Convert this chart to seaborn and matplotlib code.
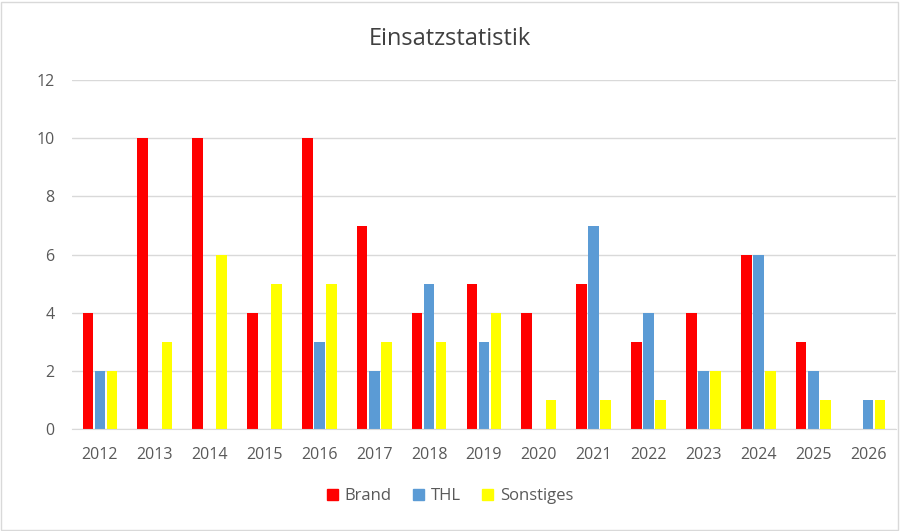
import pandas as pd
import seaborn as sns
import matplotlib.pyplot as plt

# Values
years = [str(y) for y in range(2012, 2027)]
brand = [4, 10, 10, 4, 10, 7, 4, 5, 4, 5, 3, 4, 6, 3, 0]
thl = [2, 0, 0, 0, 3, 2, 5, 3, 0, 7, 4, 2, 6, 2, 1]
sonstiges = [2, 3, 6, 5, 5, 3, 3, 4, 1, 1, 1, 2, 2, 1, 1]
series_names = ['Brand', 'THL', 'Sonstiges']
colors = ['#FF0000', '#5B9BD5', '#FFFF00']

df = pd.DataFrame({'Jahr': years, 'Brand': brand, 'THL': thl, 'Sonstiges': sonstiges})
long_df = df.melt(id_vars='Jahr', var_name='Art', value_name='Anzahl')

sns.set_style('white')
plt.rcParams['font.family'] = ['Open Sans', 'DejaVu Sans']

fig = plt.figure(figsize=(9, 5.31), dpi=100)
ax = fig.add_axes([0.0805, 0.192, 0.9145, 0.657])

sns.barplot(data=long_df, x='Jahr', y='Anzahl', hue='Art', hue_order=series_names,
            palette=colors, width=0.66, gap=0.12, saturation=1, linewidth=0,
            ax=ax, legend=False)

ax.set_ylim(0, 12)
ax.set_yticks(range(0, 13, 2))
ax.yaxis.grid(True, color='#D9D9D9', linewidth=1)
ax.set_axisbelow(True)
ax.set_xlabel('')
ax.set_ylabel('')
for s in ['top', 'right', 'left']:
    ax.spines[s].set_visible(False)
ax.spines['bottom'].set_color('#D9D9D9')
ax.tick_params(axis='both', length=0, labelsize=11.5, colors='#595959')
ax.tick_params(axis='y', pad=13)
ax.tick_params(axis='x', pad=13)

fig.suptitle('Einsatzstatistik', y=0.95, fontsize=17, color='#404040')

handles = [plt.Rectangle((0, 0), 1, 1, color=c) for c in colors]
fig.legend(handles, series_names, loc='center', bbox_to_anchor=(0.5, 0.066), ncol=3,
           frameon=False, fontsize=12, labelcolor='#595959', handlelength=0.65,
           handleheight=0.65, handletextpad=0.4, columnspacing=1.3)

# light border around the figure like the Excel chart area
fig.patches.append(plt.Rectangle((0.001, 0.002), 0.997, 0.995, transform=fig.transFigure,
                                 fill=False, edgecolor='#D9D9D9', linewidth=1))

fig.savefig('out.png', dpi=100)
